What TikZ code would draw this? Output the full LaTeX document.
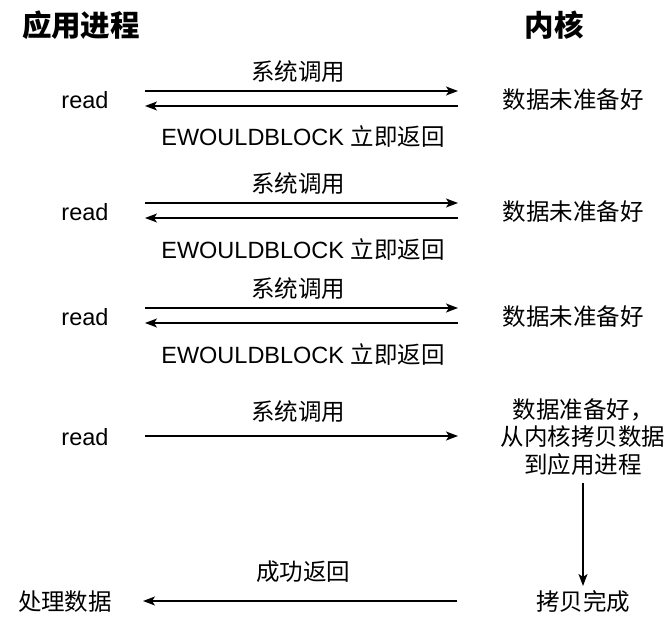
\documentclass[tikz,border=0pt]{standalone}
\usepackage{fontspec}
\setmainfont{Liberation Sans}
\newfontfamily\cjk{Noto Sans CJK SC}
\usetikzlibrary{arrows.meta}
\begin{document}
\begin{tikzpicture}[x=1pt,y=-1pt,
  lbl/.style={font=\fontsize{23.5}{27.5}\selectfont, inner sep=0pt, align=center},
  ttl/.style={font=\fontsize{29.5}{34}\selectfont\cjk\bfseries, inner sep=0pt},
  arr/.style={line width=1.3pt, -{Stealth[length=12pt,width=9pt,inset=3pt]}}]
\useasboundingbox (0,0) rectangle (670,623);
% titles
\node[ttl] (tapp) at (81,25) {应用进程};
\node[ttl] (tker) at (554,25) {内核};
% rows 1-3
\foreach \i/\y in {1/0,2/112,3/217}{
  \node[lbl] (read\i) at (85,100+\y) {read};
  \node[lbl] (sys\i) at (298,72+\y) {\cjk 系统调用};
  \node[lbl] (ret\i) at (303,137+\y) {EWOULDBLOCK {\cjk 立即返回}};
  \node[lbl] (ker\i) at (573,100+\y) {\cjk 数据未准备好};
  \coordinate (goL\i) at (145,91+\y);
  \coordinate (goR\i) at (458,91+\y);
  \coordinate (backR\i) at (458,106+\y);
  \coordinate (backL\i) at (145,106+\y);
  \draw[arr] (goL\i) -- (goR\i);
  \draw[arr] (backR\i) -- (backL\i);
}
% row 4
\node[lbl] (read4) at (85,437) {read};
\node[lbl] (sys4) at (298,412) {\cjk 系统调用};
\node[lbl] (ker4) at (583,437) {\cjk 数据准备好，\\\cjk 从内核拷贝数据\\\cjk 到应用进程};
\coordinate (goL4) at (145,436);
\coordinate (goR4) at (458,436);
\draw[arr] (goL4) -- (goR4);
% copy done
\node[lbl] (done) at (583,602) {\cjk 拷贝完成};
\coordinate (downT) at (583,483);
\coordinate (downB) at (583,586);
\draw[arr] (downT) -- (downB);
% return
\node[lbl] (ok) at (303,572) {\cjk 成功返回};
\node[lbl] (proc) at (65,602) {\cjk 处理数据};
\coordinate (okR) at (457,601);
\coordinate (okL) at (143,601);
\draw[arr] (okR) -- (okL);
\end{tikzpicture}
\end{document}
